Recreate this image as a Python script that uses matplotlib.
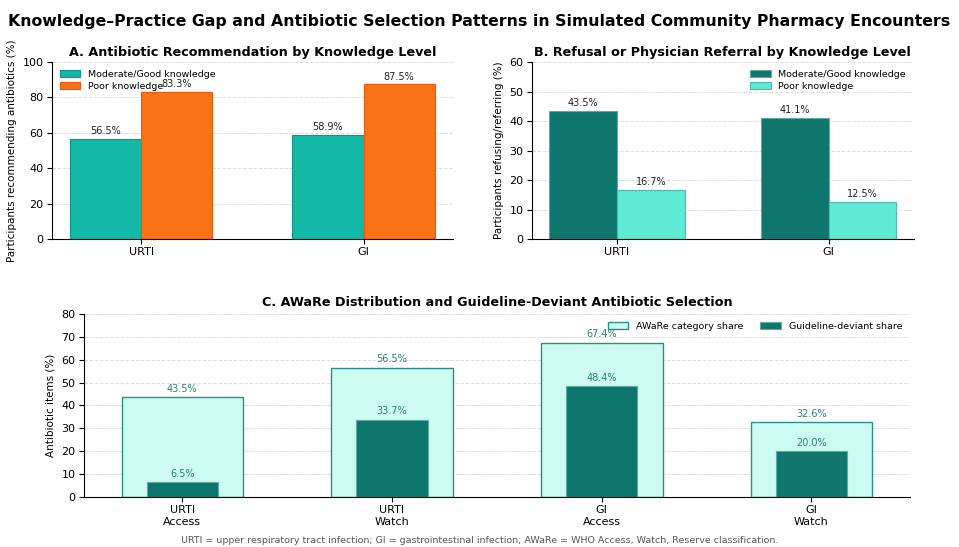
import matplotlib.pyplot as plt
import numpy as np

# ─── data ───
conditions = ["URTI", "GI"]
rec_good = [56.5, 58.9]
rec_poor = [83.3, 87.5]
ref_good = [43.5, 41.1]
ref_poor = [16.7, 12.5]

aware_labels = ["URTI\nAccess", "URTI\nWatch", "GI\nAccess", "GI\nWatch"]
aware_share = [43.5, 56.5, 67.4, 32.6]
deviant_share = [6.5, 33.7, 48.4, 20.0]

TEAL = "#14b8a6"
ORANGE = "#f97316"
DARK = "#0f766e"
LIGHT = "#5eead4"
PALE = "#ccfbf1"


def style_axis(ax):
    ax.spines["top"].set_visible(False)
    ax.spines["right"].set_visible(False)
    ax.yaxis.grid(True, linestyle="--", color="#dddddd", lw=0.7)
    ax.set_axisbelow(True)
    ax.tick_params(labelsize=8, pad=2.5)


def label_bars(ax, bars, vals, color="#222222", pad=1.5):
    for b, v in zip(bars, vals):
        ax.text(b.get_x() + b.get_width() / 2, v + pad, f"{v:.1f}%",
                ha="center", va="bottom", fontsize=7, color=color)


fig = plt.figure(figsize=(9.59, 5.47), dpi=100)
fig.suptitle("Knowledge–Practice Gap and Antibiotic Selection Patterns in Simulated Community Pharmacy Encounters",
             fontsize=11.3, fontweight="bold", y=0.975)

x = np.arange(len(conditions))
w = 0.32

# ─── A ───
axA = fig.add_axes([0.0542, 0.563, 0.418, 0.3236])
bA1 = axA.bar(x - w / 2, rec_good, w, color=TEAL, edgecolor="#0d9488", lw=0.8,
              label="Moderate/Good knowledge")
bA2 = axA.bar(x + w / 2, rec_poor, w, color=ORANGE, edgecolor="#ea580c", lw=0.8,
              label="Poor knowledge")
label_bars(axA, bA1, rec_good)
label_bars(axA, bA2, rec_poor)
axA.set_ylim(0, 100)
axA.set_xticks(x)
axA.set_xticklabels(conditions)
axA.set_ylabel("Participants recommending antibiotics (%)", fontsize=7.5)
axA.set_title("A. Antibiotic Recommendation by Knowledge Level", fontsize=9.2,
              fontweight="bold", pad=4)
axA.legend(loc="upper left", fontsize=6.8, frameon=False, borderaxespad=0.4,
           handlelength=2.2, labelspacing=0.35)
style_axis(axA)

# ─── B ───
axB = fig.add_axes([0.5547, 0.563, 0.398, 0.3236])
bB1 = axB.bar(x - w / 2, ref_good, w, color=DARK, edgecolor="#5eaaa0", lw=0.8,
              label="Moderate/Good knowledge")
bB2 = axB.bar(x + w / 2, ref_poor, w, color=LIGHT, edgecolor="#4fb8a8", lw=0.8,
              label="Poor knowledge")
label_bars(axB, bB1, ref_good, pad=1.0)
label_bars(axB, bB2, ref_poor, pad=1.0)
axB.set_ylim(0, 60)
axB.set_xticks(x)
axB.set_xticklabels(conditions)
axB.set_ylabel("Participants refusing/referring (%)", fontsize=7.5)
axB.set_title("B. Refusal or Physician Referral by Knowledge Level", fontsize=9.2,
              fontweight="bold", pad=4)
axB.legend(loc="upper right", fontsize=6.8, frameon=False, borderaxespad=0.4,
           handlelength=2.2, labelspacing=0.35)
style_axis(axB)

# ─── C ───
axC = fig.add_axes([0.0876, 0.0914, 0.861, 0.3346])
xc = np.arange(len(aware_labels))
bC1 = axC.bar(xc, aware_share, 0.58, color=PALE, edgecolor="#2a8f86", lw=1.0,
              label="AWaRe category share")
bC2 = axC.bar(xc, deviant_share, 0.34, color=DARK, edgecolor="#5eaaa0", lw=0.8,
              label="Guideline-deviant share")
label_bars(axC, bC1, aware_share, color="#2a8078", pad=1.5)
label_bars(axC, bC2, deviant_share, color="#2a8078", pad=1.5)
axC.set_ylim(0, 80)
axC.set_xticks(xc)
axC.set_xticklabels(aware_labels)
axC.set_ylabel("Antibiotic items (%)", fontsize=7.5)
axC.set_title("C. AWaRe Distribution and Guideline-Deviant Antibiotic Selection",
              fontsize=9.2, fontweight="bold", pad=6)
axC.legend(loc="upper right", ncol=2, fontsize=6.8, frameon=False,
           borderaxespad=0.4, handlelength=2.2, columnspacing=1.8)
style_axis(axC)

fig.text(0.5, 0.011,
         "URTI = upper respiratory tract infection; GI = gastrointestinal infection; "
         "AWaRe = WHO Access, Watch, Reserve classification.",
         ha="center", va="center", fontsize=6.8, color="#555555")

fig.savefig("out.png", dpi=100, facecolor="white")
